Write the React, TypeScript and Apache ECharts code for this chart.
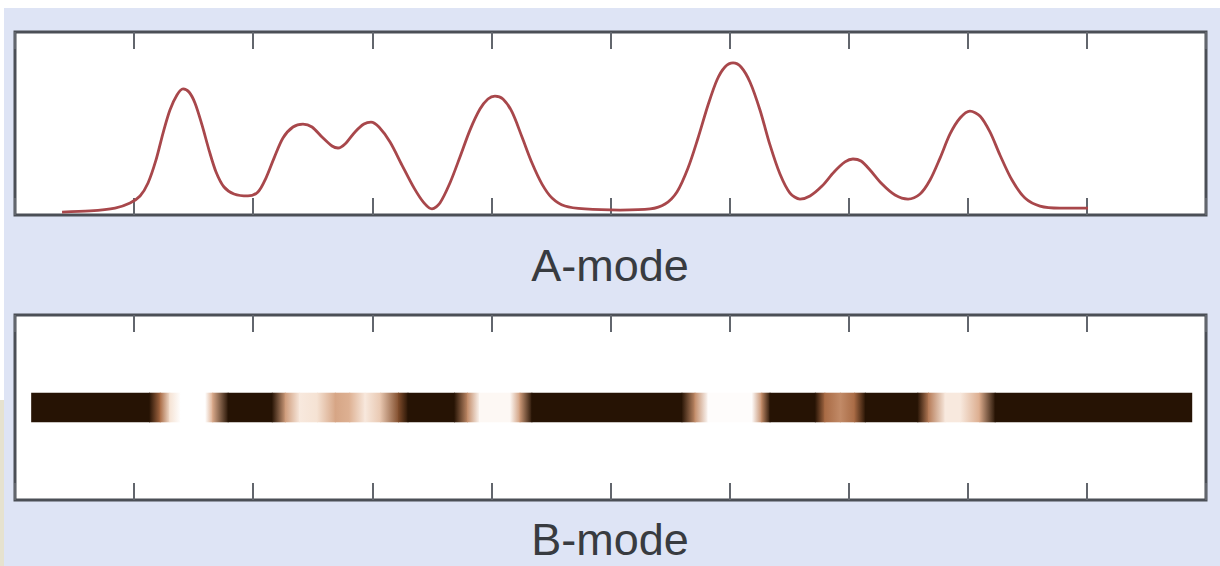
import React, { useEffect, useRef } from "react";
import * as echarts from "echarts";

// ---- Data ----
// A-mode echo amplitude (x in depth units 0..10, y amplitude 0..100)
const aModeX = [0.395, 0.63, 0.84, 0.966, 1.05, 1.117, 1.184, 1.243, 1.301, 1.36, 1.411, 1.461, 1.511, 1.57, 1.629, 1.688, 1.755, 1.839, 1.956, 2.04, 2.107, 2.175, 2.25, 2.334, 2.418, 2.494, 2.578, 2.662, 2.712, 2.771, 2.855, 2.93, 2.989, 3.056, 3.149, 3.249, 3.35, 3.434, 3.501, 3.568, 3.652, 3.736, 3.82, 3.904, 3.971, 4.03, 4.097, 4.173, 4.257, 4.341, 4.425, 4.509, 4.618, 4.786, 5.08, 5.332, 5.458, 5.558, 5.651, 5.735, 5.819, 5.894, 5.961, 6.029, 6.096, 6.171, 6.255, 6.339, 6.423, 6.507, 6.591, 6.675, 6.776, 6.877, 6.969, 7.036, 7.103, 7.179, 7.28, 7.389, 7.498, 7.599, 7.683, 7.767, 7.851, 7.935, 8.018, 8.102, 8.186, 8.27, 8.371, 8.48, 8.606, 8.774, 9.009];
const aModeY = [1.6, 2.2, 3.8, 6.6, 10.4, 17.5, 30.1, 44.8, 57.4, 65.6, 68.9, 67.2, 61.2, 49.2, 35.5, 23.5, 15.3, 11.5, 10.4, 12.6, 20.2, 31.1, 42.1, 48.1, 49.7, 48.1, 42.6, 37.7, 36.6, 38.8, 45.4, 49.7, 50.8, 48.1, 39.9, 27.3, 14.8, 6.6, 3.3, 6.6, 17.5, 31.7, 46.4, 57.9, 63.4, 65.0, 63.4, 56.3, 42.6, 28.4, 16.9, 9.3, 4.9, 3.3, 2.7, 3.3, 6.0, 12.6, 25.7, 42.1, 60.1, 73.8, 80.9, 83.1, 80.9, 72.7, 57.4, 38.3, 22.4, 12.0, 8.7, 10.4, 15.8, 23.5, 29.0, 30.6, 29.5, 24.6, 16.9, 10.9, 8.7, 11.5, 19.1, 31.1, 44.3, 53.0, 56.8, 54.1, 45.4, 32.8, 19.1, 9.3, 4.9, 3.8, 3.8];

// B-mode brightness profile along the scan line (x in depth units, intensity 0..1)
const bModeX = [0.14, 1.13, 1.22, 1.3, 1.39, 1.6, 1.66, 1.79, 2.16, 2.27, 2.39, 2.54, 2.69, 2.81, 2.94, 3.07, 3.22, 3.3, 3.69, 3.8, 3.9, 4.16, 4.24, 4.34, 5.6, 5.71, 5.82, 6.19, 6.27, 6.34, 6.72, 6.8, 6.93, 7.05, 7.14, 7.58, 7.67, 7.81, 7.94, 8.1, 8.23, 9.88];
const bModeV = [1, 1, 0.6, 0.2, 0, 0, 0.4, 1, 1, 0.45, 0.15, 0.2, 0.42, 0.38, 0.15, 0.3, 0.7, 1, 1, 0.5, 0.05, 0.05, 0.45, 1, 1, 0.5, 0.02, 0.02, 0.5, 1, 1, 0.6, 0.5, 0.6, 1, 1, 0.55, 0.15, 0.15, 0.4, 1, 1];
const stripeBand = [4.2, 5.8];

const tickValues = [0, 1, 2, 3, 4, 5, 6, 7, 8, 9, 10];
const panelLabels = ["A-mode", "B-mode"];

const palette = ["#ffffff", "#f5e2d3", "#dbab8c", "#a86a44", "#5a3014", "#261304"];

function hexToRgb(h: string) {
  const n = parseInt(h.slice(1), 16);
  return [(n >> 16) & 255, (n >> 8) & 255, n & 255];
}
function colorAt(v: number) {
  const t = Math.max(0, Math.min(1, v)) * (palette.length - 1);
  const i = Math.min(palette.length - 2, Math.floor(t));
  const f = t - i;
  const a = hexToRgb(palette[i]);
  const b = hexToRgb(palette[i + 1]);
  const c = a.map((x, k) => Math.round(x + (b[k] - x) * f));
  return `rgb(${c[0]},${c[1]},${c[2]})`;
}

export default function App() {
  const ref = useRef<HTMLDivElement>(null);
  useEffect(() => {
    if (!ref.current) return;
    const chart = echarts.init(ref.current, null, { renderer: "svg" });

    const lineData = aModeX.map((x, i) => [x, aModeY[i]]);
    const segData = [];
    for (let i = 0; i < bModeX.length - 1; i++) {
      segData.push([bModeX[i], bModeX[i + 1], bModeV[i], bModeV[i + 1]]);
    }

    const tickAxis = (gridIndex: number, position: string) => ({
      type: "value",
      gridIndex,
      position,
      min: tickValues[0],
      max: tickValues[tickValues.length - 1],
      interval: 1,
      axisLine: { show: false },
      axisLabel: { show: false },
      splitLine: { show: false },
      axisTick: { show: true, inside: true, length: 17, lineStyle: { color: "#62666d", width: 2 } },
    });

    const gridBase = {
      show: true,
      left: 15,
      right: 14,
      backgroundColor: "#ffffff",
      borderColor: "#4b4f56",
      borderWidth: 3,
      containLabel: false,
    };

    const labelStyle = { fontSize: 45, fontFamily: "Liberation Sans, Arial, sans-serif", fill: "#383b40" };

    chart.setOption({
      animation: false,
      backgroundColor: "#dee4f5",
      grid: [
        { ...gridBase, top: 32, height: 183 },
        { ...gridBase, top: 315, height: 185 },
      ],
      xAxis: [tickAxis(0, "bottom"), tickAxis(0, "top"), tickAxis(1, "bottom"), tickAxis(1, "top")],
      yAxis: [
        { type: "value", gridIndex: 0, min: 0, max: 100, show: false },
        { type: "value", gridIndex: 1, min: 0, max: 10, show: false },
      ],
      graphic: [
        { type: "rect", shape: { x: 0, y: 0, width: 1220, height: 8 }, style: { fill: "#ffffff" }, silent: true },
        { type: "rect", shape: { x: 0, y: 0, width: 4, height: 566 }, style: { fill: "#ffffff" }, silent: true },
        { type: "rect", shape: { x: 0, y: 400, width: 4, height: 166 }, style: { fill: "#e6e2cf" }, silent: true },
        { type: "text", left: "center", top: 243, style: { text: panelLabels[0], ...labelStyle } },
        { type: "text", left: "center", top: 517, style: { text: panelLabels[1], ...labelStyle } },
      ],
      series: [
        {
          type: "line",
          xAxisIndex: 0,
          yAxisIndex: 0,
          data: lineData,
          showSymbol: false,
          smooth: 0.3,
          lineStyle: { color: "#a8474b", width: 2.8 },
          z: 5,
        },
        {
          type: "custom",
          xAxisIndex: 2,
          yAxisIndex: 1,
          data: segData,
          encode: { x: [0, 1] },
          renderItem: (params: any, api: any) => {
            const p0 = api.coord([api.value(0), stripeBand[1]]);
            const p1 = api.coord([api.value(1), stripeBand[0]]);
            const c0 = colorAt(api.value(2));
            const c1 = colorAt(api.value(3));
            return {
              type: "rect",
              shape: { x: p0[0] - 0.5, y: p0[1], width: p1[0] - p0[0] + 1, height: p1[1] - p0[1] },
              style: {
                fill: new echarts.graphic.LinearGradient(0, 0, 1, 0, [
                  { offset: 0, color: c0 },
                  { offset: 1, color: c1 },
                ]),
              },
            };
          },
          z: 3,
        },
      ],
    });
    return () => chart.dispose();
  }, []);
  return <div ref={ref} style={{ position: "absolute", left: 0, top: 0, width: 1220, height: 566 }} />;
}
